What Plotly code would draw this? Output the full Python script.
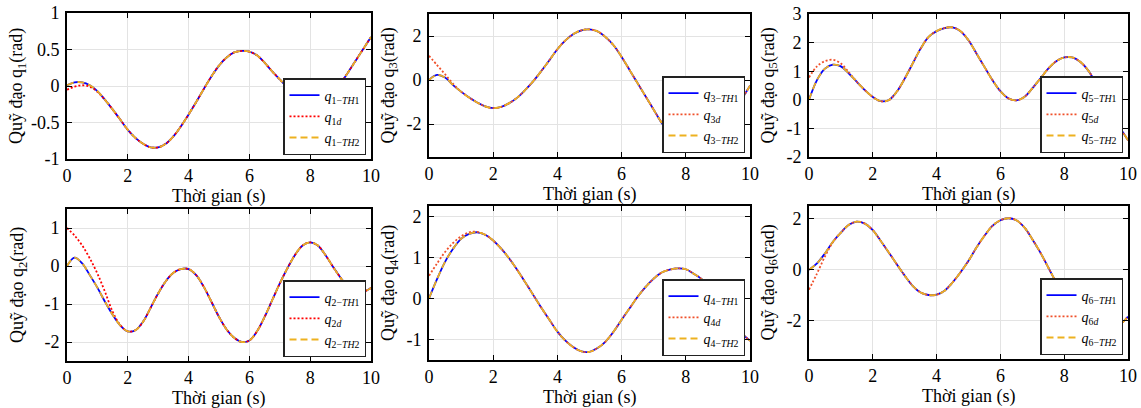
import plotly.graph_objects as go

# sample times (s)
t = [0, 0.25, 0.5, 0.75, 1, 1.25, 1.5, 1.75, 2, 2.25, 2.5, 2.75, 3, 3.25, 3.5, 3.75,
     4, 4.25, 4.5, 4.75, 5, 5.25, 5.5, 5.75, 6, 6.25, 6.5, 6.75, 7, 7.25, 7.5, 7.75,
     8, 8.25, 8.5, 8.75, 9, 9.25, 9.5, 9.75, 10]

# joint 1
q1_th1 = [0.01, 0.05, 0.05, 0.01, -0.07, -0.19, -0.32, -0.46, -0.60, -0.71, -0.79, -0.84,
          -0.84, -0.79, -0.69, -0.55, -0.39, -0.22, -0.04, 0.13, 0.28, 0.39, 0.46, 0.48,
          0.47, 0.42, 0.32, 0.20, 0.09, -0.02, -0.10, -0.18, -0.22, -0.22, -0.17, -0.07,
          0.04, 0.19, 0.35, 0.51, 0.67]
q1_d = [-0.05, -0.01, 0.01, -0.01, -0.08, -0.19, -0.32, -0.46, -0.60, -0.71, -0.79, -0.84,
        -0.84, -0.79, -0.69, -0.55, -0.39, -0.22, -0.04, 0.13, 0.28, 0.39, 0.46, 0.48,
        0.47, 0.42, 0.32, 0.20, 0.09, -0.02, -0.10, -0.18, -0.22, -0.22, -0.17, -0.07,
        0.04, 0.19, 0.35, 0.51, 0.67]
# joint 2
q2_th1 = [0.00, 0.22, 0.07, -0.24, -0.57, -0.94, -1.28, -1.56, -1.72, -1.69, -1.47, -1.10,
          -0.72, -0.40, -0.18, -0.08, -0.08, -0.24, -0.55, -0.94, -1.34, -1.67, -1.89, -2.00,
          -1.96, -1.72, -1.34, -0.90, -0.46, -0.06, 0.29, 0.54, 0.62, 0.54, 0.29, -0.02,
          -0.31, -0.55, -0.68, -0.68, -0.58]
q2_d = [1.00, 0.80, 0.54, 0.20, -0.20, -0.68, -1.20, -1.55, -1.72, -1.69, -1.47, -1.10,
        -0.72, -0.40, -0.18, -0.08, -0.08, -0.24, -0.55, -0.94, -1.34, -1.67, -1.89, -2.00,
        -1.96, -1.72, -1.34, -0.90, -0.46, -0.06, 0.29, 0.54, 0.62, 0.54, 0.29, -0.02,
        -0.31, -0.55, -0.68, -0.68, -0.58]
# joint 3
q3_th1 = [0.00, 0.23, 0.11, -0.23, -0.53, -0.80, -1.02, -1.20, -1.28, -1.22, -1.05, -0.80,
          -0.45, -0.05, 0.41, 0.90, 1.40, 1.80, 2.09, 2.26, 2.30, 2.21, 1.95, 1.58,
          1.05, 0.45, -0.15, -0.75, -1.35, -1.95, -2.45, -2.80, -3.05, -3.15, -3.10, -2.85,
          -2.45, -1.95, -1.40, -0.85, -0.26]
q3_d = [1.10, 0.68, 0.26, -0.17, -0.53, -0.80, -1.02, -1.20, -1.28, -1.22, -1.05, -0.80,
        -0.45, -0.05, 0.41, 0.90, 1.40, 1.80, 2.09, 2.26, 2.30, 2.21, 1.95, 1.58,
        1.05, 0.45, -0.15, -0.75, -1.35, -1.95, -2.45, -2.80, -3.05, -3.15, -3.10, -2.85,
        -2.45, -1.95, -1.40, -0.85, -0.26]
# joint 4
q4_th1 = [0.00, 0.47, 0.89, 1.21, 1.45, 1.57, 1.61, 1.55, 1.41, 1.21, 0.97, 0.69,
          0.39, 0.08, -0.23, -0.52, -0.81, -1.03, -1.19, -1.29, -1.30, -1.21, -1.05, -0.81,
          -0.52, -0.24, 0.04, 0.28, 0.48, 0.63, 0.70, 0.73, 0.71, 0.60, 0.47, 0.26,
          0.00, -0.28, -0.58, -0.85, -1.03]
q4_d = [0.55, 0.85, 1.13, 1.35, 1.51, 1.61, 1.62, 1.55, 1.41, 1.21, 0.97, 0.69,
        0.39, 0.08, -0.23, -0.52, -0.81, -1.03, -1.19, -1.29, -1.30, -1.21, -1.05, -0.81,
        -0.52, -0.24, 0.04, 0.28, 0.48, 0.63, 0.70, 0.73, 0.71, 0.60, 0.47, 0.26,
        0.00, -0.28, -0.58, -0.85, -1.03]
# joint 5
q5_th1 = [0.00, 0.69, 1.09, 1.23, 1.17, 0.92, 0.63, 0.34, 0.10, -0.05, -0.01, 0.28,
          0.74, 1.27, 1.79, 2.20, 2.40, 2.51, 2.53, 2.40, 2.08, 1.62, 1.15, 0.69,
          0.30, 0.05, -0.02, 0.10, 0.40, 0.74, 1.09, 1.35, 1.48, 1.48, 1.33, 1.03,
          0.57, 0.05, -0.48, -0.98, -1.41]
q5_d = [0.78, 1.17, 1.35, 1.40, 1.27, 0.96, 0.63, 0.34, 0.10, -0.05, -0.01, 0.28,
        0.74, 1.27, 1.79, 2.20, 2.40, 2.51, 2.53, 2.40, 2.08, 1.62, 1.15, 0.69,
        0.30, 0.05, -0.02, 0.10, 0.40, 0.74, 1.09, 1.35, 1.48, 1.48, 1.33, 1.03,
        0.57, 0.05, -0.48, -0.98, -1.41]
# joint 6
q6_th1 = [0.00, 0.25, 0.64, 1.10, 1.46, 1.76, 1.89, 1.81, 1.55, 1.13, 0.68, 0.22,
          -0.23, -0.63, -0.89, -0.99, -0.98, -0.82, -0.50, -0.10, 0.35, 0.87, 1.33, 1.72,
          1.94, 2.02, 1.94, 1.66, 1.20, 0.68, 0.09, -0.50, -1.05, -1.50, -1.85, -2.10,
          -2.25, -2.32, -2.30, -2.15, -1.84]
q6_d = [-0.78, -0.15, 0.52, 1.08, 1.46, 1.76, 1.89, 1.81, 1.55, 1.13, 0.68, 0.22,
        -0.23, -0.63, -0.89, -0.99, -0.98, -0.82, -0.50, -0.10, 0.35, 0.87, 1.33, 1.72,
        1.94, 2.02, 1.94, 1.66, 1.20, 0.68, 0.09, -0.50, -1.05, -1.50, -1.85, -2.10,
        -2.25, -2.32, -2.30, -2.15, -1.84]

# TH2 follows TH1 exactly in the picture
q1_th2, q2_th2, q3_th2 = q1_th1, q2_th1, q3_th1
q4_th2, q5_th2, q6_th2 = q4_th1, q5_th1, q6_th1

x_ticks = [0, 2, 4, 6, 8, 10]

W, H = 1141, 408
FONT = "Liberation Serif"

# joint, th1, d, th2, y-range, y ticks, plot box (left, right, top, bottom px),
# red colour, y-title offset from the box
panels = [
    (1, q1_th1, q1_d, q1_th2, [-1, 1], [-1, -0.5, 0, 0.5, 1], (67, 371, 13, 159), "#ff0000", 50),
    (3, q3_th1, q3_d, q3_th2, [-3.5, 3], [-2, 0, 2], (429, 750, 14, 157), "#f0502a", 40),
    (5, q5_th1, q5_d, q5_th2, [-2, 3], [-2, -1, 0, 1, 2, 3], (809, 1128, 14, 157), "#f0502a", 40),
    (2, q2_th1, q2_d, q2_th2, [-2.5, 1.5], [-2, -1, 0, 1], (67, 371, 209, 361), "#ff0000", 49),
    (4, q4_th1, q4_d, q4_th2, [-1.5, 2.25], [-1, 0, 1, 2], (429, 750, 206, 360), "#f0502a", 40),
    (6, q6_th1, q6_d, q6_th2, [-3.5, 2.5], [-2, 0, 2], (809, 1128, 206, 359), "#f0502a", 40),
]


def fmt(v):
    # plain hyphen minus like the original
    return "%g" % v


fig = go.Figure()
layout = dict(width=W, height=H, margin=dict(l=0, r=0, t=0, b=0, autoexpand=False),
              paper_bgcolor="white", plot_bgcolor="white",
              font=dict(family=FONT, size=18, color="black"), showlegend=True)
annotations = []

for k, (j, th1, qd, th2, yr, yt, box, red, yoff) in enumerate(panels, start=1):
    left, right, top, bottom = box
    xa = "x" if k == 1 else "x%d" % k
    ya = "y" if k == 1 else "y%d" % k
    lg = "legend" if k == 1 else "legend%d" % k

    fig.add_trace(go.Scatter(x=t, y=th1, xaxis=xa, yaxis=ya, legend=lg, mode="lines",
                             line=dict(color="#0000ff", width=1.8, shape="spline"),
                             name="<i>q</i><sub>%d−<i>TH</i>1</sub>" % j))
    fig.add_trace(go.Scatter(x=t, y=qd, xaxis=xa, yaxis=ya, legend=lg, mode="lines",
                             line=dict(color=red, width=1.8, dash="2px,2px", shape="spline"),
                             name="<i>q</i><sub>%d<i>d</i></sub>" % j))
    fig.add_trace(go.Scatter(x=t, y=th2, xaxis=xa, yaxis=ya, legend=lg, mode="lines",
                             line=dict(color="#edb120", width=1.8, dash="7px,4px", shape="spline"),
                             name="<i>q</i><sub>%d−<i>TH</i>2</sub>" % j))

    axis_common = dict(showline=True, linecolor="black", linewidth=1.6, mirror="ticks",
                       ticks="inside", ticklen=5, tickcolor="black", tickwidth=1,
                       showgrid=True, gridcolor="#e3e3e3", gridwidth=1, zeroline=False,
                       automargin=False,
                       tickfont=dict(family=FONT, size=18, color="black"))
    layout["xaxis" if k == 1 else "xaxis%d" % k] = dict(
        axis_common, domain=[left / W, right / W], anchor=ya, range=[0, 10],
        tickvals=x_ticks, ticktext=[fmt(v) for v in x_ticks])
    layout["yaxis" if k == 1 else "yaxis%d" % k] = dict(
        axis_common, domain=[1 - bottom / H, 1 - top / H], anchor=xa, range=yr,
        tickvals=yt, ticktext=[fmt(v) for v in yt], ticklabelstandoff=2)

    layout[lg] = dict(x=(right - 5) / W, y=1 - (bottom - 4) / H, xanchor="right", yanchor="bottom",
                      bgcolor="white", bordercolor="#222222", borderwidth=1.5,
                      font=dict(family=FONT, size=14, color="black"),
                      itemwidth=30, tracegroupgap=0)

    # axis titles
    annotations.append(dict(text="Quỹ đạo q<sub>%d</sub>(rad)" % j, textangle=-90,
                            x=(left - yoff) / W, y=1 - (top + bottom) / 2 / H,
                            xref="paper", yref="paper", xanchor="center", yanchor="middle",
                            showarrow=False, font=dict(family=FONT, size=18, color="black")))
    annotations.append(dict(text="Thời gian (s)", x=(left + right) / 2 / W,
                            y=1 - (bottom + 37) / H, xref="paper", yref="paper",
                            xanchor="center", yanchor="middle", showarrow=False,
                            font=dict(family=FONT, size=18, color="black")))

layout["annotations"] = annotations
fig.update_layout(**layout)

# the page body has a default 8px margin; drop it so the figure fills the window
fig.write_html("out.html", config={"displayModeBar": False},
               post_script="document.body.style.margin='0px';")
